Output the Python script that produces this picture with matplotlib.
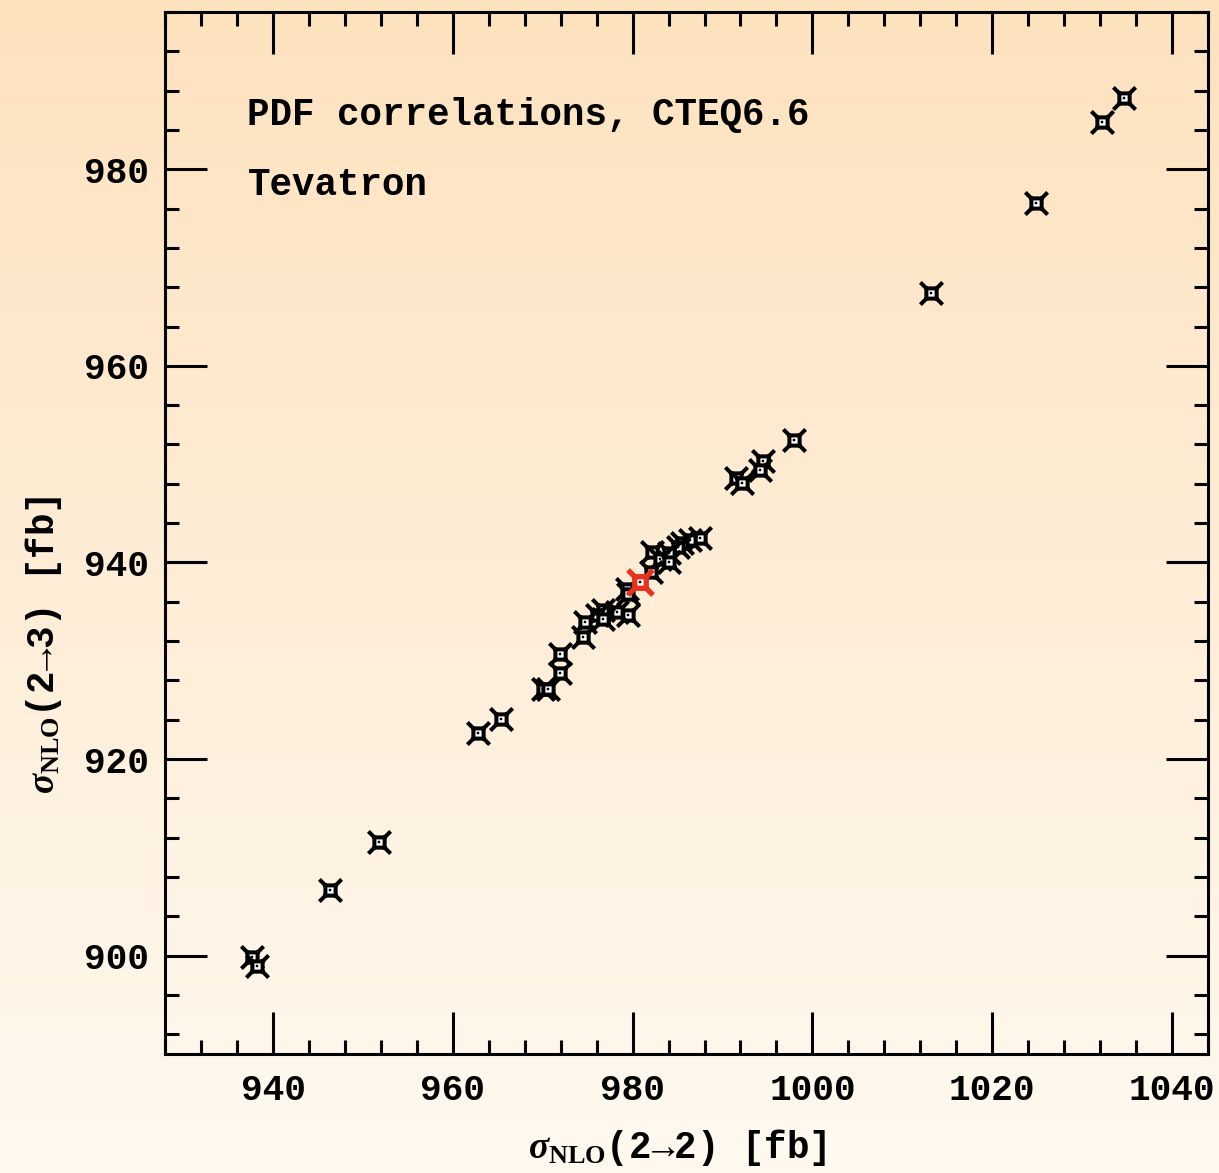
import numpy as np
import matplotlib
matplotlib.use('Agg')
import matplotlib.pyplot as plt
from matplotlib.path import Path
from matplotlib.ticker import MultipleLocator

plt.rcParams['font.family'] = ['Liberation Mono', 'DejaVu Sans Mono']
plt.rcParams['font.weight'] = 'bold'
plt.rcParams['mathtext.fontset'] = 'custom'
plt.rcParams['mathtext.rm'] = 'Liberation Mono'
plt.rcParams['mathtext.it'] = 'Liberation Serif:italic'
plt.rcParams['mathtext.bf'] = 'Liberation Serif:bold'

# cross sections of the PDF error sets (2->2 vs 2->3), fb
sigma_22 = [1034.6, 1032.2, 1024.9, 1013.2, 997.9, 994.5, 994.2, 991.5, 992.2,
            987.5, 986.4, 985.5, 985.1, 984.0, 982.2, 983.1, 984.0, 982.0,
            979.4, 979.5, 979.5, 978.3, 976.7, 976.0, 976.7, 974.7, 974.5,
            971.9, 971.9, 970.0, 970.6, 965.4, 962.8, 951.8, 946.3, 937.7, 938.2]
sigma_23 = [987.2, 984.8, 976.6, 967.4, 952.5, 950.3, 949.4, 948.6, 948.1,
            942.5, 942.3, 942.0, 941.6, 941.0, 941.1, 940.3, 940.0, 939.0,
            937.3, 936.8, 934.7, 935.0, 935.2, 934.7, 934.2, 933.9, 932.4,
            930.7, 928.8, 927.1, 927.1, 924.1, 922.6, 911.6, 906.7, 899.9, 898.9]
# central fit
central_22 = [980.8]
central_23 = [938.0]

fig = plt.figure(figsize=(12.19, 11.73), dpi=100)

# background gradient
bg = fig.add_axes([0, 0, 1, 1], zorder=-10)
top = np.array([253, 226, 190]) / 255
bot = np.array([255, 249, 240]) / 255
t = np.linspace(0, 1, 256)[:, None, None]
grad = top * (1 - t) + bot * t
bg.imshow(grad, aspect='auto', extent=[0, 1, 0, 1])
bg.axis('off')

ax = fig.add_axes([0.1354, 0.1015, 0.8556, 0.8883])
ax.patch.set_alpha(0)

# square with four diagonal spikes
s = 0.46
verts = [(-s, -s), (s, -s), (s, s), (-s, s), (-s, -s),
         (s, s), (1, 1), (-s, s), (-1, 1), (-s, -s), (-1, -1), (s, -s), (1, -1)]
codes = [Path.MOVETO, Path.LINETO, Path.LINETO, Path.LINETO, Path.CLOSEPOLY,
         Path.MOVETO, Path.LINETO, Path.MOVETO, Path.LINETO,
         Path.MOVETO, Path.LINETO, Path.MOVETO, Path.LINETO]
star = Path(verts, codes)

ax.plot(sigma_22, sigma_23, ls='none', marker=star, ms=16, mfc='white',
        mec='black', mew=2.9)
ax.plot(sigma_22, sigma_23, ls='none', marker='s', ms=1.6, mfc='black',
        mec='black', mew=0.3)
ax.plot(central_22, central_23, ls='none', marker=star, ms=18, mfc='white',
        mec='#e8321e', mew=3.8)
ax.plot(central_22, central_23, ls='none', marker='s', ms=1.6, mfc='black',
        mec='black', mew=0.3)

ax.set_xlim(928, 1044)
ax.set_ylim(890, 996)
ax.xaxis.set_major_locator(MultipleLocator(20))
ax.xaxis.set_minor_locator(MultipleLocator(4))
ax.yaxis.set_major_locator(MultipleLocator(20))
ax.yaxis.set_minor_locator(MultipleLocator(4))
ax.tick_params(which='both', direction='in', top=True, right=True, width=2.2)
ax.tick_params(which='major', length=30, labelsize=26)
ax.tick_params(which='minor', length=10)
ax.tick_params(axis='x', pad=14)
ax.tick_params(axis='y', pad=12)
for sp in ax.spines.values():
    sp.set_linewidth(2.2)

ax.text(0.079, 0.8916, 'PDF correlations, CTEQ6.6', transform=ax.transAxes,
        fontsize=27, va='baseline')
ax.text(0.079, 0.8244, 'Tevatron', transform=ax.transAxes,
        fontsize=27, va='baseline')

fig.text(677 / 1219, 1 - 1158 / 1173, r'$\sigma_{\mathbf{NLO}}$(2→2) [fb]',
         fontsize=27, ha='center', va='baseline')
fig.text(44 / 1219, 1 - 645 / 1173, r'$\sigma_{\mathbf{NLO}}$(2→3) [fb]',
         fontsize=27, ha='center', va='center', rotation=90)

fig.savefig('out.png', dpi=100)
